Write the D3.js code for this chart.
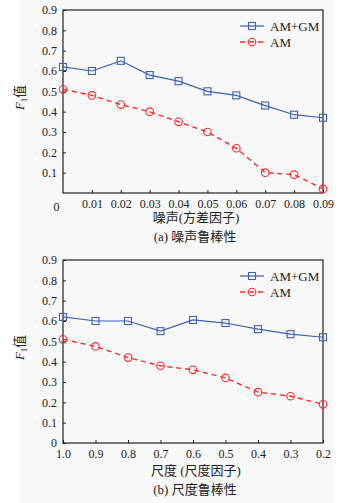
<!DOCTYPE html>
<html lang="zh">
<head>
  <meta charset="utf-8">
  <title>F1</title>
  <script src="https://d3js.org/d3.v7.min.js"></script>
  <style>
    body { margin: 0; background: #fff; }
    svg text { font-family: "Liberation Serif", "Times New Roman", "Noto Sans CJK SC", serif; fill: #222; }
    .axis path, .axis line { stroke: #222; }
  </style>
</head>
<body>
<div id="chart"></div>
<script>
"use strict"

// dados
var noiseX = [0, 0.01, 0.02, 0.03, 0.04, 0.05, 0.06, 0.07, 0.08, 0.09];
var noiseAmGm = [0.62, 0.60, 0.65, 0.58, 0.55, 0.50, 0.48, 0.43, 0.385, 0.37];
var noiseAm = [0.51, 0.48, 0.435, 0.40, 0.35, 0.30, 0.22, 0.10, 0.09, 0.02];

var scaleX = [1.0, 0.9, 0.8, 0.7, 0.6, 0.5, 0.4, 0.3, 0.2];
var scaleAmGm = [0.62, 0.60, 0.60, 0.55, 0.605, 0.59, 0.56, 0.535, 0.52];
var scaleAm = [0.51, 0.475, 0.42, 0.38, 0.36, 0.32, 0.25, 0.23, 0.19];

var yTicks = [0, 0.1, 0.2, 0.3, 0.4, 0.5, 0.6, 0.7, 0.8, 0.9];
var seriesNames = ["AM+GM", "AM"];

var fonte = '"Liberation Serif", "Times New Roman", "Noto Sans CJK SC", serif';

var svg = d3.select('#chart').append('svg')
            .attr('width', 350)
            .attr('height', 503)
            .attr('font-family', fonte);

svg.append('rect')
   .attr('x', 20).attr('y', 0)
   .attr('width', 313).attr('height', 503)
   .attr('fill', '#f8f8f8');

var azul = '#3d62b0', vermelho = '#ff2a2a';

function desenhaPainel(p) {
  var larg = 260, alt = 183;
  var g = svg.append('g')
             .attr('transform', 'translate(63,' + p.top + ')');

  var x = d3.scaleLinear().domain(p.xDomain).range([0, larg]);
  var y = d3.scaleLinear().domain([0, 0.9]).range([alt, 0]);

  // caixa
  g.append('rect')
   .attr('width', larg).attr('height', alt)
   .attr('fill', 'none').attr('stroke', '#222').attr('stroke-width', 1.2);

  var eixoX = g.append('g')
     .attr('class', 'axis')
     .attr('transform', 'translate(0,' + alt + ')')
     .call(d3.axisBottom(x).tickValues(p.xs).tickSizeInner(-3).tickSizeOuter(0).tickPadding(6).tickFormat(p.fmt));
  eixoX.attr('font-family', fonte);
  eixoX.select('.domain').remove();
  eixoX.selectAll('text').style('font-size', '12px')
       .attr('fill', '#222');
  if (p.zeroShift) {
    eixoX.selectAll('.tick').filter(function(d) { return d === 0; })
         .select('text').attr('x', -7).attr('dy', '1.0em');
    eixoX.selectAll('.tick').filter(function(d) { return d === 0; })
         .select('line').remove();
  }

  var eixoY = g.append('g')
     .attr('class', 'axis')
     .call(d3.axisLeft(y).tickValues(p.yTicks).tickSizeInner(-3).tickSizeOuter(0).tickPadding(6)
            .tickFormat(function(d) { return d === 0 ? '0' : d3.format('.1f')(d); }));
  eixoY.attr('font-family', fonte);
  eixoY.select('.domain').remove();
  eixoY.selectAll('text').style('font-size', '12px').attr('fill', '#222');

  var linha = function(vals) {
    return d3.line()
             .x(function(d, i) { return x(p.xs[i]); })
             .y(function(d) { return y(d); })(vals);
  };

  // AM (vermelho tracejado)
  g.append('path')
   .attr('d', linha(p.am))
   .attr('fill', 'none').attr('stroke', vermelho)
   .attr('stroke-width', 1.4).attr('stroke-dasharray', '5,4');
  g.selectAll('circle.am').data(p.am).enter()
   .append('circle')
   .attr('cx', function(d, i) { return x(p.xs[i]); })
   .attr('cy', function(d) { return y(d); })
   .attr('r', 3.8)
   .attr('fill', 'none').attr('stroke', vermelho).attr('stroke-width', 1.1);

  // AM+GM (azul)
  g.append('path')
   .attr('d', linha(p.amgm))
   .attr('fill', 'none').attr('stroke', azul).attr('stroke-width', 1.2);
  g.selectAll('rect.amgm').data(p.amgm).enter()
   .append('rect')
   .attr('x', function(d, i) { return x(p.xs[i]) - 3.5; })
   .attr('y', function(d) { return y(d) - 3.5; })
   .attr('width', 7).attr('height', 7)
   .attr('fill', 'none').attr('stroke', azul).attr('stroke-width', 1.1);

  // legenda
  var leg = g.append('g').attr('transform', 'translate(177,16)');
  leg.append('line').attr('x1', 0).attr('x2', 24).attr('y1', 0).attr('y2', 0)
     .attr('stroke', azul).attr('stroke-width', 1.2);
  leg.append('rect').attr('x', 8.5).attr('y', -3.5).attr('width', 7).attr('height', 7)
     .attr('fill', 'none').attr('stroke', azul).attr('stroke-width', 1.1);
  leg.append('text').attr('x', 30).attr('y', 0).attr('dy', '0.35em')
     .style('font-size', '13px').text(seriesNames[0]);
  leg.append('line').attr('x1', 0).attr('x2', 24).attr('y1', 16).attr('y2', 16)
     .attr('stroke', vermelho).attr('stroke-width', 1.4).attr('stroke-dasharray', '5,4');
  leg.append('circle').attr('cx', 12).attr('cy', 16).attr('r', 3.8)
     .attr('fill', 'none').attr('stroke', vermelho).attr('stroke-width', 1.1);
  leg.append('text').attr('x', 30).attr('y', 16).attr('dy', '0.35em')
     .style('font-size', '13px').text(seriesNames[1]);

  // rótulo do eixo y
  var yl = g.append('text')
     .attr('transform', 'translate(-39,' + (alt / 2 - 4) + ') rotate(-90)')
     .attr('text-anchor', 'middle')
     .style('font-size', '13px');
  yl.append('tspan').style('font-style', 'italic').text('F');
  yl.append('tspan').attr('dy', 3).style('font-size', '8px').text('1');
  yl.append('tspan').attr('dy', -3).text('值');

  g.append('text')
   .attr('x', larg / 2 + 3).attr('y', alt + p.xLabelDy)
   .attr('text-anchor', 'middle')
   .style('font-size', '13px')
   .text(p.xLabel);

  g.append('text')
   .attr('x', larg / 2 + 2).attr('y', alt + p.xLabelDy + 19)
   .attr('text-anchor', 'middle')
   .style('font-size', '13px')
   .text(p.caption);
}

desenhaPainel({
  top: 10, xDomain: [0, 0.09], xs: noiseX,
  yTicks: yTicks.slice(1),
  fmt: function(d) { return d === 0 ? '0' : d3.format('.2f')(d); },
  zeroShift: true,
  amgm: noiseAmGm, am: noiseAm,
  xLabel: '噪声(方差因子)', caption: '(a) 噪声鲁棒性', xLabelDy: 29
});

desenhaPainel({
  top: 260, xDomain: [1.0, 0.2], xs: scaleX,
  yTicks: yTicks,
  fmt: d3.format('.1f'),
  zeroShift: false,
  amgm: scaleAmGm, am: scaleAm,
  xLabel: '尺度 (尺度因子)', caption: '(b) 尺度鲁棒性', xLabelDy: 32
});
</script>
</body>
</html>
